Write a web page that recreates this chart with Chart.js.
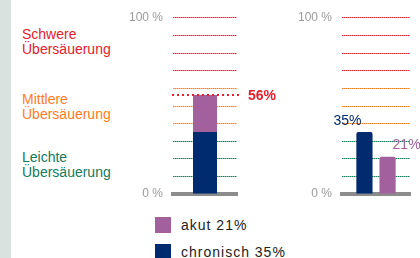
<!DOCTYPE html>
<html>
<head>
<meta charset="utf-8">
<script src="https://cdn.jsdelivr.net/npm/chart.js@4.4.1/dist/chart.umd.min.js"></script>
<style>
body { margin: 0; background: #fff; font-family: "Liberation Sans", Arial, sans-serif; }
#wrap { position: relative; width: 420px; height: 258px; overflow: hidden; background: #fff; }
#strip { position: absolute; left: 0; top: 0; width: 11px; height: 258px; background: #d8e3df; }
.zone { position: absolute; left: 22px; font-size: 14px; line-height: 15px; }
#c1 { position: absolute; left: 110px; top: 0; }
#c2 { position: absolute; left: 290px; top: 0; }
#legend { position: absolute; left: 155px; top: 217px; font-size: 14px; letter-spacing: 1px; color: #222; }
.row { height: 27px; display: flex; align-items: flex-start; }
.sw { width: 16px; height: 16px; margin-right: 10px; }
.row span { line-height: 16px; }
</style>
</head>
<body>
<div id="wrap">
  <div id="strip"></div>
  <div id="zones"></div>
  <canvas id="c1" width="180" height="211"></canvas>
  <canvas id="c2" width="130" height="211"></canvas>
  <div id="legend"></div>
</div>
<script>
// DATA
const zoneLabels = [['Schwere', 'Übersäuerung'], ['Mittlere', 'Übersäuerung'], ['Leichte', 'Übersäuerung']];
const zoneColors = ['#e3202c', '#ff7b1c', '#137a5c'];
const zoneFrom = [70, 40, 0];
const seriesNames = ['chronisch', 'akut'];
const seriesValues = [35, 21];
const seriesColors = ['#002b6e', '#a2619d'];
const tickLabels = [0, 100];

const zoneTops = [27, 92, 150];
const gray = '#9a9a9a';

const zoneColorFor = (v) => {
    for (let i = 0; i < zoneFrom.length; i++) {
        if (v >= zoneFrom[i]) return zoneColors[i];
    }
    return zoneColors[zoneColors.length - 1];
};

// zone labels
const zonesEl = document.getElementById('zones');
zoneLabels.forEach((lines, i) => {
    const d = document.createElement('div');
    d.className = 'zone';
    d.style.top = zoneTops[i] + 'px';
    d.style.color = zoneColors[i];
    d.innerHTML = lines.join('<br>');
    zonesEl.appendChild(d);
});

// legend (akut first, then chronisch)
const legendEl = document.getElementById('legend');
[1, 0].forEach(i => {
    const r = document.createElement('div');
    r.className = 'row';
    r.innerHTML = `<div class="sw" style="background:${seriesColors[i]}"></div><span>${seriesNames[i]} ${seriesValues[i]}%</span>`;
    legendEl.appendChild(r);
});

// dotted, zone-coloured grid lines taken from the y scale ticks
const dottedGrid = {
    id: 'dottedGrid',
    beforeDatasetsDraw(chart) {
        const { ctx, chartArea, scales } = chart;
        const y = scales.y;
        const left = Math.round(chartArea.left);
        const right = Math.round(chartArea.right);
        ctx.save();
        y.ticks.forEach(t => {
            if (t.value <= 0) return;
            const py = Math.round(y.getPixelForValue(t.value));
            ctx.fillStyle = zoneColorFor(t.value);
            // faint line under the dots
            ctx.globalAlpha = 0.5;
            ctx.fillRect(left, py, right - left, 1);
            ctx.globalAlpha = 1;
            for (let x = left; x < right; x += 2) {
                ctx.fillRect(x, py, 1, 1);
            }
        });
        ctx.restore();
    }
};

const yScale = (axisWidth) => ({
    min: 0,
    max: 100,
    afterFit: (s) => { s.width = axisWidth; },
    ticks: {
        stepSize: 10,
        autoSkip: false,
        padding: 10,
        color: gray,
        font: { family: 'Liberation Sans', size: 12 },
        callback: (v) => tickLabels.includes(v) ? v + ' %' : ''
    },
    grid: { display: false, drawTicks: false },
    border: { display: false }
});

const xScale = (stacked) => ({
    stacked: stacked,
    afterFit: (s) => { s.height = 0; },
    ticks: { display: false },
    grid: { display: false, drawTicks: false },
    border: { display: true, color: '#8c8c8c', width: 4 }
});

// LEFT: stacked total
const totalLine = {
    id: 'totalLine',
    afterDatasetsDraw(chart) {
        const { ctx, chartArea, scales } = chart;
        const total = seriesValues.reduce((a, b) => a + b, 0);
        const y = Math.round(scales.y.getPixelForValue(total));
        ctx.save();
        ctx.fillStyle = zoneColors[0];
        for (let x = Math.round(chartArea.left) - 1; x < chartArea.right + 3; x += 5) {
            ctx.fillRect(x, y - 1, 2, 2);
        }
        ctx.font = 'bold 14px "Liberation Sans"';
        ctx.textBaseline = 'middle';
        ctx.fillText(total + '%', chartArea.right + 11, y + 1);
        ctx.restore();
    }
};

new Chart(document.getElementById('c1'), {
    type: 'bar',
    data: {
        labels: ['gesamt'],
        datasets: seriesNames.map((n, i) => ({
            label: n,
            data: [seriesValues[i]],
            backgroundColor: seriesColors[i],
            barPercentage: 0.375,
            categoryPercentage: 1
        }))
    },
    options: {
        responsive: false,
        animation: false,
        layout: { padding: { top: 14, bottom: 7, right: 53, left: 0 } },
        plugins: { legend: { display: false }, tooltip: { enabled: false } },
        scales: { x: xScale(true), y: Object.assign(yScale(63), { stacked: true }) }
    },
    plugins: [dottedGrid, totalLine]
});

// RIGHT: grouped
const valueLabels = {
    id: 'valueLabels',
    afterDatasetsDraw(chart) {
        const { ctx } = chart;
        ctx.save();
        ctx.font = '14px "Liberation Sans"';
        ctx.textBaseline = 'middle';
        chart.data.datasets.forEach((ds, i) => {
            const bar = chart.getDatasetMeta(i).data[0];
            ctx.fillStyle = seriesColors[i];
            if (i === 0) {
                ctx.textAlign = 'right';
                ctx.fillText(seriesValues[i] + '%', bar.x - 3, bar.y - 11);
            } else {
                ctx.textAlign = 'left';
                ctx.fillText(seriesValues[i] + '%', bar.x + 5, bar.y - 12);
            }
        });
        ctx.restore();
    }
};

new Chart(document.getElementById('c2'), {
    type: 'bar',
    data: {
        labels: ['einzeln'],
        datasets: seriesNames.map((n, i) => ({
            label: n,
            data: [seriesValues[i]],
            backgroundColor: seriesColors[i],
            borderRadius: { topLeft: 2, topRight: 2 },
            borderSkipped: 'bottom',
            barPercentage: 0.7,
            categoryPercentage: 0.68
        }))
    },
    options: {
        responsive: false,
        animation: false,
        layout: { padding: { top: 14, bottom: 7, right: 10, left: 0 } },
        plugins: { legend: { display: false }, tooltip: { enabled: false } },
        scales: { x: xScale(false), y: yScale(52) }
    },
    plugins: [dottedGrid, valueLabels]
});
</script>
</body>
</html>
